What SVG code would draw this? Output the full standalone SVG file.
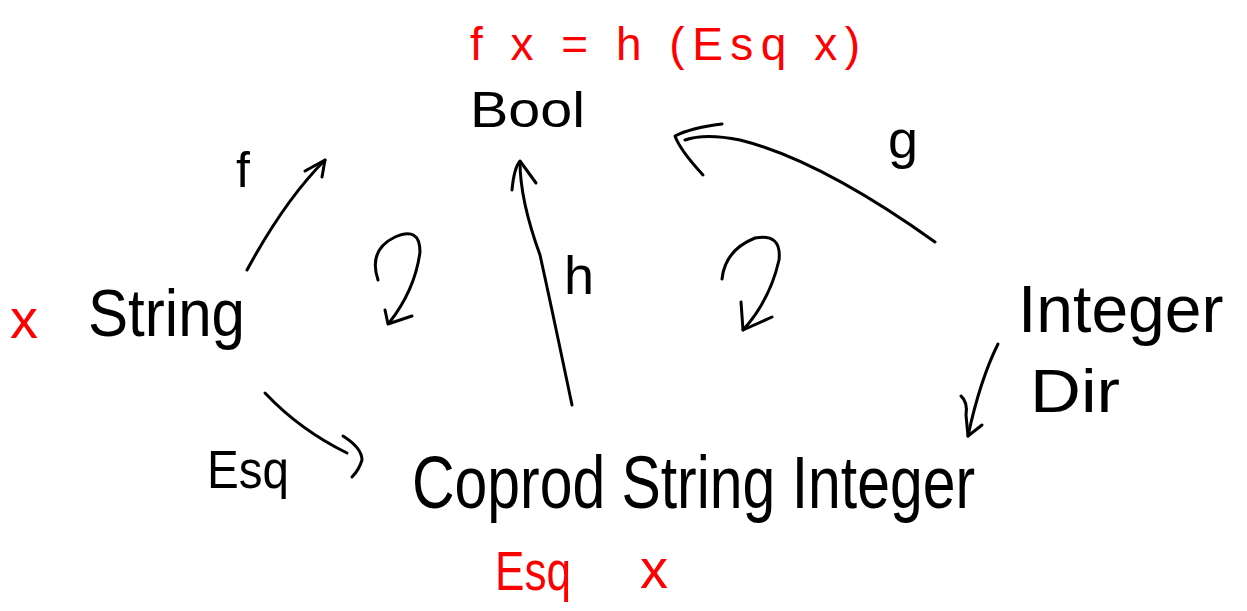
<svg xmlns="http://www.w3.org/2000/svg" width="1247" height="611" viewBox="0 0 1247 611">
<style>
text{font-family:"Liberation Sans","DejaVu Sans",sans-serif;fill:#000}
.red{fill:#ff0000}
.ln{fill:none;stroke:#000;stroke-width:3;stroke-linecap:round;stroke-linejoin:round}
</style>
<rect width="1247" height="611" fill="#fff"/>
<g id="equation"><text class="red" x="470" y="60" font-size="46" textLength="390" lengthAdjust="spacing">f x = h (Esq x)</text></g>
<g id="bool"><text x="470" y="127" font-size="50" textLength="115" lengthAdjust="spacingAndGlyphs">Bool</text></g>
<g id="string">
<text class="red" x="10" y="338" font-size="56">x</text>
<text x="88" y="336" font-size="66" textLength="157" lengthAdjust="spacingAndGlyphs">String</text>
</g>
<g id="coprod">
<text x="412" y="508" font-size="74" textLength="563" lengthAdjust="spacingAndGlyphs">Coprod String Integer</text>
<text class="red" x="495" y="590" font-size="56" textLength="76" lengthAdjust="spacingAndGlyphs">Esq</text>
<text class="red" x="640" y="588" font-size="56">x</text>
</g>
<g id="integer"><text x="1018" y="332" font-size="66">Integer</text></g>
<g id="connectors">
<g id="f-arrow">
<path class="ln" d="M247,270 Q285,200 325,160"/>
<path class="ln" d="M305,171 L325,160 L322,177"/>
<text x="236" y="187" font-size="50">f</text>
</g>
<g id="esq-arrow">
<path class="ln" d="M265,393 Q300,430 347,453"/>
<path class="ln" d="M343,436 Q362,448 362,460 Q359,470 352,477"/>
<text x="207" y="488" font-size="54" textLength="82" lengthAdjust="spacingAndGlyphs">Esq</text>
</g>
<g id="h-arrow">
<path class="ln" d="M572,405 Q550,300 540,255 Q520,200 520,162"/>
<path class="ln" d="M512,190 Q514,168 520,161 L536,183"/>
<text x="564" y="294" font-size="54">h</text>
</g>
<g id="g-arrow">
<path class="ln" d="M935,242 Q820,160 740,140 Q705,133 685,140"/>
<path class="ln" d="M722,124 Q690,128 675,136 Q680,150 703,175"/>
<text x="888" y="158" font-size="54">g</text>
</g>
<g id="dir-arrow">
<path class="ln" d="M998,344 Q980,380 968,436"/>
<path class="ln" d="M961,396 Q968,402 966,415 L968,436 L982,425"/>
<text x="1030" y="412" font-size="62" textLength="90" lengthAdjust="spacingAndGlyphs">Dir</text>
</g>
<g id="commute-left">
<path class="ln" d="M378,280 Q368,250 395,237 Q420,226 420,252 Q415,290 389,323"/>
<path class="ln" d="M385,310 L388,324 L412,316"/>
</g>
<g id="commute-right">
<path class="ln" d="M722,279 Q725,250 755,238 Q782,233 779,260 Q770,300 743,330"/>
<path class="ln" d="M741,302 L743,330 L772,317"/>
</g>
</g>
</svg>
